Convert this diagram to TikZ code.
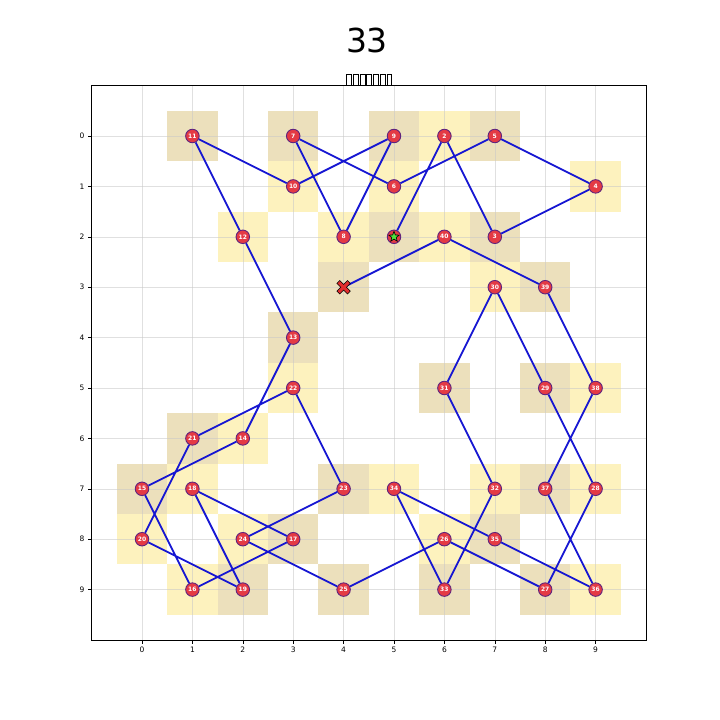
\documentclass[tikz,border=0pt]{standalone}
\usepackage{fontspec}
\setmainfont{DejaVu Sans}
\usetikzlibrary{shapes.geometric}
\definecolor{tancell}{RGB}{236,224,188}
\definecolor{yelcell}{RGB}{253,242,190}
\definecolor{gridc}{RGB}{200,200,200}
\definecolor{edgec}{RGB}{22,22,210}
\definecolor{ptfill}{RGB}{228,58,68}
\definecolor{ptdraw}{RGB}{95,35,125}
\definecolor{stargreen}{RGB}{80,225,60}
\definecolor{xred}{RGB}{225,45,45}
\newcommand{\tofubox}{\fbox{\rule{0pt}{10pt}\hspace{4.4pt}}\hspace{1.6pt}}
\tikzset{
  pt/.style={circle, fill=ptfill, draw=ptdraw, line width=0.9pt, minimum size=13.5pt, inner sep=0pt,
    text=white, font=\fontsize{6}{6}\selectfont\bfseries},
  pathline/.style={draw=edgec, line width=1.8pt},
  tanbox/.style={fill=tancell},
  yelbox/.style={fill=yelcell},
  gridline/.style={draw=gridc, opacity=0.55, line width=0.6pt},
  ticklab/.style={font=\fontsize{7.5}{7.5}\selectfont, inner sep=0pt},
  startstar/.style={star, star points=5, star point ratio=2.4, minimum size=11pt, inner sep=0pt,
    fill=stargreen, draw=black, line width=0.6pt}
}
\begin{document}
\begin{tikzpicture}[x=1pt,y=-1pt]
\useasboundingbox[fill=white] (0,0) rectangle (720,720);
\node[font=\fontsize{33}{33}\selectfont] (title) at (367,40) {33};
\node[inner sep=0pt, font=\fontsize{10}{10}\selectfont] (subtitle) at (369,79.5)
  {\setlength{\fboxsep}{0pt}\setlength{\fboxrule}{0.35pt}\tofubox\tofubox\tofubox\tofubox\tofubox\tofubox\tofubox};
\begin{scope}[shift={(142,136)}, x=50.4pt, y=-50.4pt]
  % cells
  \foreach \c/\r in {1/0,3/0,5/0,7/0,5/2,7/2,4/3,8/3,3/4,6/5,8/5,1/6,0/7,4/7,8/7,3/8,7/8,2/9,4/9,6/9,8/9}
    \fill[tanbox] (\c-0.5,\r-0.5) rectangle (\c+0.5,\r+0.5);
  \foreach \c/\r in {6/0,3/1,5/1,9/1,2/2,4/2,6/2,7/3,3/5,9/5,2/6,1/7,5/7,7/7,9/7,0/8,2/8,6/8,1/9,9/9}
    \fill[yelbox] (\c-0.5,\r-0.5) rectangle (\c+0.5,\r+0.5);
  % grid
  \foreach \i in {0,...,9} {
    \draw[gridline] (\i,-1) -- (\i,10);
    \draw[gridline] (-1,\i) -- (10,\i);
  }
  % frame
  \draw[black, line width=0.8pt] (-1,-1) rectangle (10,10);
  % ticks
  \foreach \i in {0,...,9} {
    \draw[black, line width=0.6pt] (\i,10) -- ++(0,-3.5pt);
    \node[ticklab, anchor=north] (xt\i) at ([yshift=-7pt]\i,10) {\i};
    \draw[black, line width=0.6pt] (-1,\i) -- ++(-3.5pt,0);
    \node[ticklab, anchor=east] (yt\i) at ([xshift=-7pt]-1,\i) {\i};
  }
  % points
  \node[pt] (n1) at (5,2) {};
  \node[pt] (n2) at (6,0) {2};
  \node[pt] (n3) at (7,2) {3};
  \node[pt] (n4) at (9,1) {4};
  \node[pt] (n5) at (7,0) {5};
  \node[pt] (n6) at (5,1) {6};
  \node[pt] (n7) at (3,0) {7};
  \node[pt] (n8) at (4,2) {8};
  \node[pt] (n9) at (5,0) {9};
  \node[pt] (n10) at (3,1) {10};
  \node[pt] (n11) at (1,0) {11};
  \node[pt] (n12) at (2,2) {12};
  \node[pt] (n13) at (3,4) {13};
  \node[pt] (n14) at (2,6) {14};
  \node[pt] (n15) at (0,7) {15};
  \node[pt] (n16) at (1,9) {16};
  \node[pt] (n17) at (3,8) {17};
  \node[pt] (n18) at (1,7) {18};
  \node[pt] (n19) at (2,9) {19};
  \node[pt] (n20) at (0,8) {20};
  \node[pt] (n21) at (1,6) {21};
  \node[pt] (n22) at (3,5) {22};
  \node[pt] (n23) at (4,7) {23};
  \node[pt] (n24) at (2,8) {24};
  \node[pt] (n25) at (4,9) {25};
  \node[pt] (n26) at (6,8) {26};
  \node[pt] (n27) at (8,9) {27};
  \node[pt] (n28) at (9,7) {28};
  \node[pt] (n29) at (8,5) {29};
  \node[pt] (n30) at (7,3) {30};
  \node[pt] (n31) at (6,5) {31};
  \node[pt] (n32) at (7,7) {32};
  \node[pt] (n33) at (6,9) {33};
  \node[pt] (n34) at (5,7) {34};
  \node[pt] (n35) at (7,8) {35};
  \node[pt] (n36) at (9,9) {36};
  \node[pt] (n37) at (8,7) {37};
  \node[pt] (n38) at (9,5) {38};
  \node[pt] (n39) at (8,3) {39};
  \node[pt] (n40) at (6,2) {40};
  \coordinate (nX) at (4,3);
  % path
  \draw[pathline] (n1) -- (n2) -- (n3) -- (n4) -- (n5) -- (n6) -- (n7) -- (n8) -- (n9) -- (n10)
    -- (n11) -- (n12) -- (n13) -- (n14) -- (n15) -- (n16) -- (n17) -- (n18) -- (n19) -- (n20)
    -- (n21) -- (n22) -- (n23) -- (n24) -- (n25) -- (n26) -- (n27) -- (n28) -- (n29) -- (n30)
    -- (n31) -- (n32) -- (n33) -- (n34) -- (n35) -- (n36) -- (n37) -- (n38) -- (n39) -- (n40) -- (nX);
  % start star
  \node[startstar] (startmark) at (n1) {};
  % end X
  \draw[black, line width=4.6pt] ([shift={(-5.5pt,-5.5pt)}]nX) -- ([shift={(5.5pt,5.5pt)}]nX);
  \draw[black, line width=4.6pt] ([shift={(-5.5pt,5.5pt)}]nX) -- ([shift={(5.5pt,-5.5pt)}]nX);
  \draw[xred, line width=3.2pt] ([shift={(-5pt,-5pt)}]nX) -- ([shift={(5pt,5pt)}]nX);
  \draw[xred, line width=3.2pt] ([shift={(-5pt,5pt)}]nX) -- ([shift={(5pt,-5pt)}]nX);
\end{scope}
\end{tikzpicture}
\end{document}
